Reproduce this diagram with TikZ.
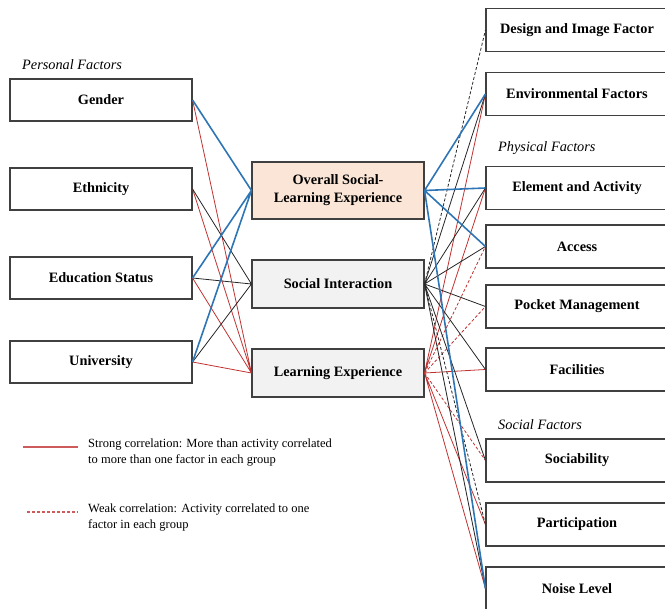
\documentclass[tikz,border=0pt]{standalone}
\usepackage{fontspec}
\setmainfont{Liberation Serif}
\definecolor{corrblue}{RGB}{46,117,182}
\definecolor{corrred}{RGB}{192,50,50}
\definecolor{peach}{RGB}{251,229,214}
\definecolor{lightgray}{RGB}{242,242,242}
\tikzset{
  fbox/.style={rectangle,draw=black!75,line width=1.1pt,inner sep=2pt,align=center,
    font=\fontsize{14.3}{18}\selectfont\bfseries},
  lbox/.style={fbox,minimum width=182pt,minimum height=42pt},
  mbox/.style={fbox,minimum width=172pt,minimum height=48pt,fill=lightgray},
  rbox/.style={fbox,minimum width=182pt,minimum height=43pt},
  grouplabel/.style={anchor=west,inner sep=0pt,font=\fontsize{14.3}{16}\selectfont\itshape},
  legendtext/.style={anchor=north west,inner sep=0pt,align=left,font=\fontsize{12.5}{15.5}\selectfont},
  bl/.style={corrblue,line width=1.6pt},
  bk/.style={black!85,line width=0.8pt},
  rd/.style={corrred,line width=0.8pt},
  wk/.style={dash pattern=on 3pt off 2pt}
}
\begin{document}
\begin{tikzpicture}[x=1pt,y=-1pt]
\useasboundingbox (0,0) rectangle (665,609);
% personal factors
\node[grouplabel] at (22,65) {Personal Factors};
\node[lbox] (G) at (101,100) {Gender};
\node[lbox] (Et) at (101,189) {Ethnicity};
\node[lbox] (Ed) at (101,278) {Education Status};
\node[lbox] (U) at (101,362) {University};
% experience boxes
\node[mbox,fill=peach,minimum height=57pt] (O) at (338,190.5) {Overall Social-\\Learning Experience};
\node[mbox] (SI) at (338,284) {Social Interaction};
\node[mbox] (LE) at (338,373) {Learning Experience};
% physical and social factors
\node[rbox] (D) at (577,30) {Design and Image Factor};
\node[rbox] (Env) at (577,94) {Environmental Factors};
\node[grouplabel] at (498,148) {Physical Factors};
\node[rbox] (EA) at (577,188) {Element and Activity};
\node[rbox] (Ac) at (577,246.5) {Access};
\node[rbox] (PM) at (577,306.5) {Pocket Management};
\node[rbox] (Fa) at (577,369.5) {Facilities};
\node[grouplabel] at (498,425) {Social Factors};
\node[rbox] (So) at (577,460.5) {Sociability};
\node[rbox] (Pa) at (577,524.5) {Participation};
\node[rbox] (NL) at (577,588.5) {Noise Level};
% left links
\draw[rd] (G.east)--(LE.west) (Et.east)--(LE.west) (Ed.east)--(LE.west) (U.east)--(LE.west);
\draw[bk] (Et.east)--(SI.west) (Ed.east)--(SI.west) (U.east)--(SI.west);
\draw[bl] (G.east)--(O.west) (Ed.east)--(O.west) (U.east)--(O.west);
% right links
\draw[rd] (LE.east)--(Env.west) (LE.east)--(EA.west) (LE.east)--(Fa.west)
  (LE.east)--(Pa.west) (LE.east)--(NL.west);
\draw[rd,wk] (LE.east)--(Ac.west) (LE.east)--(PM.west) (LE.east)--(So.west);
\draw[bk] (SI.east)--(Env.west) (SI.east)--(EA.west) (SI.east)--(Ac.west) (SI.east)--(PM.west)
  (SI.east)--(Fa.west) (SI.east)--(So.west) (SI.east)--(NL.west);
\draw[bk,wk] (SI.east)--(D.west) (SI.east)--(Pa.west);
\draw[bl] (O.east)--(Env.west) (O.east)--(EA.west) (O.east)--(Ac.west) (O.east)--(NL.west);
% legend
\coordinate (s1) at (23,447);\coordinate (s2) at (78,447);
\coordinate (w1) at (27,512);\coordinate (w2) at (78,512);
\draw[corrred!80,line width=1.2pt] (s1)--(s2);
\draw[corrred!80,line width=1.2pt,wk] (w1)--(w2);
\node[legendtext] at (88,439) {Strong correlation: More than activity correlated\\to more than one factor in each group};
\node[legendtext] at (88,504) {Weak correlation: Activity correlated to one\\factor in each group};
\end{tikzpicture}
\end{document}
